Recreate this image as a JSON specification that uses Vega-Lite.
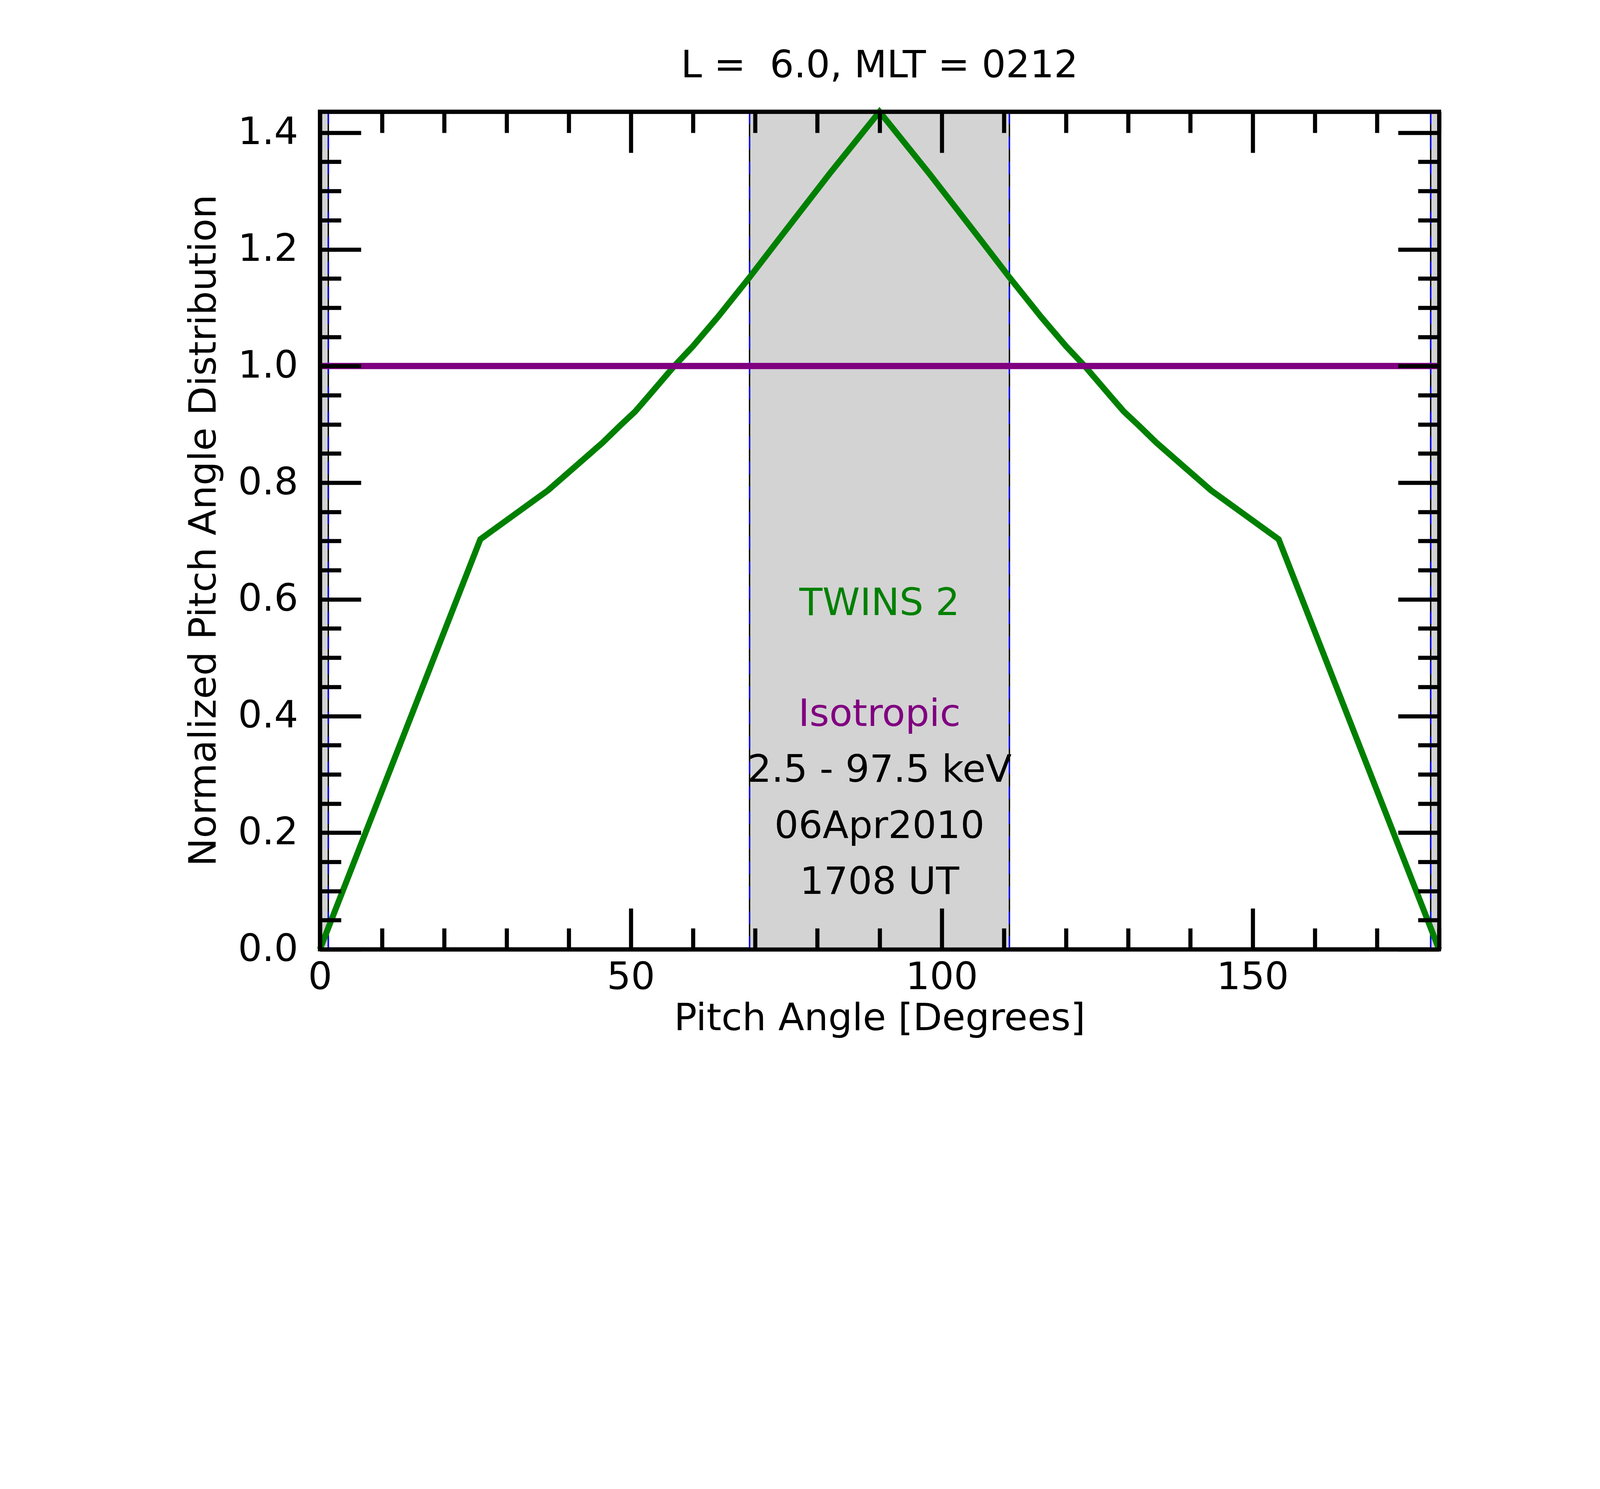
{
  "$schema": "https://vega.github.io/schema/vega-lite/v6.json",
  "width": 2865,
  "height": 2145,
  "autosize": "none",
  "padding": {"left": 819, "top": 286, "right": 412, "bottom": 429},
  "background": "white",
  "title": {
    "text": "L = \u00a06.0, MLT = 0212",
    "font": "DejaVu Sans",
    "fontSize": 97,
    "fontWeight": "normal",
    "color": "black",
    "anchor": "middle",
    "frame": "group",
    "baseline": "alphabetic",
    "offset": -40
  },
  "datasets": {
    "bands": [
      {"start": 0, "end": 1.35},
      {"start": 69.1, "end": 110.9},
      {"start": 178.65, "end": 180}
    ],
    "edges": [
      {"angle": 1.35},
      {"angle": 69.1},
      {"angle": 110.9},
      {"angle": 178.65}
    ],
    "twins": [
      {"angle": 0, "pad": 0},
      {"angle": 25.8, "pad": 0.703},
      {"angle": 36.7, "pad": 0.787},
      {"angle": 45.4, "pad": 0.868},
      {"angle": 48.3, "pad": 0.898},
      {"angle": 50.7, "pad": 0.922},
      {"angle": 52.9, "pad": 0.949},
      {"angle": 57.0, "pad": 1.0},
      {"angle": 60.0, "pad": 1.034},
      {"angle": 64.0, "pad": 1.084},
      {"angle": 69.1, "pad": 1.152},
      {"angle": 73.5, "pad": 1.213},
      {"angle": 78.0, "pad": 1.275},
      {"angle": 82.0, "pad": 1.33},
      {"angle": 86.0, "pad": 1.383},
      {"angle": 90, "pad": 1.436},
      {"angle": 94.0, "pad": 1.383},
      {"angle": 98.0, "pad": 1.33},
      {"angle": 102.0, "pad": 1.275},
      {"angle": 106.5, "pad": 1.213},
      {"angle": 110.9, "pad": 1.152},
      {"angle": 116.0, "pad": 1.084},
      {"angle": 120.0, "pad": 1.034},
      {"angle": 123.0, "pad": 1.0},
      {"angle": 127.1, "pad": 0.949},
      {"angle": 129.3, "pad": 0.922},
      {"angle": 131.7, "pad": 0.898},
      {"angle": 134.6, "pad": 0.868},
      {"angle": 143.3, "pad": 0.787},
      {"angle": 154.2, "pad": 0.703},
      {"angle": 180, "pad": 0}
    ],
    "isotropic": [
      {"angle": 0, "pad": 1},
      {"angle": 180, "pad": 1}
    ],
    "notes": [
      {"angle": 90, "pad": 0.573, "text": "TWINS 2", "kind": "twins"},
      {"angle": 90, "pad": 0.383, "text": "Isotropic", "kind": "iso"},
      {"angle": 90, "pad": 0.287, "text": "2.5 - 97.5 keV", "kind": "info"},
      {"angle": 90, "pad": 0.191, "text": "06Apr2010", "kind": "info"},
      {"angle": 90, "pad": 0.095, "text": "1708 UT", "kind": "info"}
    ]
  },
  "layer": [
    {
      "data": {"name": "bands"},
      "mark": {"type": "rect", "color": "#d3d3d3"},
      "encoding": {
        "x": {"field": "start", "type": "quantitative", "scale": {"domain": [0, 180], "nice": false}, "axis": null},
        "x2": {"field": "end"}
      }
    },
    {
      "data": {"name": "edges"},
      "mark": {"type": "rule", "color": "black", "strokeWidth": 3.5},
      "encoding": {
        "x": {"field": "angle", "type": "quantitative", "scale": {"domain": [0, 180], "nice": false}, "axis": null}
      }
    },
    {
      "data": {"name": "edges"},
      "mark": {"type": "rule", "color": "#0000ff", "strokeWidth": 3.5, "strokeDash": [32, 32]},
      "encoding": {
        "x": {"field": "angle", "type": "quantitative", "scale": {"domain": [0, 180], "nice": false}, "axis": null}
      }
    },
    {
      "data": {"name": "twins"},
      "mark": {"type": "line", "color": "#008000", "strokeWidth": 15.5},
      "encoding": {
        "x": {
          "field": "angle",
          "type": "quantitative",
          "scale": {"domain": [0, 180], "nice": false},
          "axis": {
            "orient": "bottom",
            "values": [0, 10, 20, 30, 40, 50, 60, 70, 80, 90, 100, 110, 120, 130, 140, 150, 160, 170, 180],
            "tickSize": {"condition": {"test": "datum.value % 50 === 0", "value": -105}, "value": -54},
            "tickWidth": 10.5,
            "tickColor": "black",
            "domain": true,
            "domainColor": "black",
            "domainWidth": 10.5,
            "grid": false,
            "labelExpr": "datum.value % 50 === 0 ? datum.label : ''",
            "labelFont": "DejaVu Sans",
            "labelFontSize": 97,
            "labelColor": "black",
            "labelPadding": 129,
            "labelLimit": 1000,
            "labelOverlap": false,
            "labelFlush": false,
            "title": "Pitch Angle [Degrees]",
            "titleFont": "DejaVu Sans",
            "titleFontSize": 97,
            "titleFontWeight": "normal",
            "titleColor": "black",
            "titleBaseline": "alphabetic",
            "titleY": 206,
            "titleLimit": 3000,
            "zindex": 1
          }
        },
        "y": {
          "field": "pad",
          "type": "quantitative",
          "scale": {"domain": [0, 1.436], "nice": false},
          "axis": {
            "orient": "left",
            "values": [0, 0.05, 0.1, 0.15, 0.2, 0.25, 0.3, 0.35, 0.4, 0.45, 0.5, 0.55, 0.6, 0.65, 0.7, 0.75, 0.8, 0.85, 0.9, 0.95, 1, 1.05, 1.1, 1.15, 1.2, 1.25, 1.3, 1.35, 1.4],
            "tickSize": {"condition": {"test": "round(datum.value * 20) % 4 === 0", "value": -105}, "value": -54},
            "tickWidth": 10.5,
            "tickColor": "black",
            "domain": true,
            "domainColor": "black",
            "domainWidth": 10.5,
            "grid": false,
            "labelExpr": "round(datum.value * 20) % 4 === 0 ? format(datum.value, '.1f') : ''",
            "labelFont": "DejaVu Sans",
            "labelFontSize": 97,
            "labelColor": "black",
            "labelPadding": 161,
            "labelLimit": 1000,
            "labelOverlap": false,
            "labelFlush": false,
            "title": "Normalized Pitch Angle Distribution",
            "titleFont": "DejaVu Sans",
            "titleFontSize": 97,
            "titleFontWeight": "normal",
            "titleColor": "black",
            "titleAngle": -90,
            "titleBaseline": "alphabetic",
            "titleX": -268,
            "titleY": 1072,
            "titleLimit": 3000,
            "zindex": 1
          }
        }
      }
    },
    {
      "data": {"name": "isotropic"},
      "mark": {"type": "line", "color": "#800080", "strokeWidth": 16},
      "encoding": {
        "x": {
          "field": "angle",
          "type": "quantitative",
          "scale": {"domain": [0, 180], "nice": false},
          "axis": {
            "orient": "top",
            "values": [0, 10, 20, 30, 40, 50, 60, 70, 80, 90, 100, 110, 120, 130, 140, 150, 160, 170, 180],
            "tickSize": {"condition": {"test": "datum.value % 50 === 0", "value": -105}, "value": -54},
            "tickWidth": 10.5,
            "tickColor": "black",
            "domain": true,
            "domainColor": "black",
            "domainWidth": 10.5,
            "grid": false,
            "labels": false,
            "title": null,
            "zindex": 1
          }
        },
        "y": {
          "field": "pad",
          "type": "quantitative",
          "scale": {"domain": [0, 1.436], "nice": false},
          "axis": {
            "orient": "right",
            "values": [0, 0.05, 0.1, 0.15, 0.2, 0.25, 0.3, 0.35, 0.4, 0.45, 0.5, 0.55, 0.6, 0.65, 0.7, 0.75, 0.8, 0.85, 0.9, 0.95, 1, 1.05, 1.1, 1.15, 1.2, 1.25, 1.3, 1.35, 1.4],
            "tickSize": {"condition": {"test": "round(datum.value * 20) % 4 === 0", "value": -105}, "value": -54},
            "tickWidth": 10.5,
            "tickColor": "black",
            "domain": true,
            "domainColor": "black",
            "domainWidth": 10.5,
            "grid": false,
            "labels": false,
            "title": null,
            "zindex": 1
          }
        }
      }
    },
    {
      "data": {"name": "notes"},
      "mark": {"type": "text", "font": "DejaVu Sans", "fontSize": 97, "align": "center", "baseline": "alphabetic"},
      "encoding": {
        "x": {"field": "angle", "type": "quantitative", "scale": {"domain": [0, 180], "nice": false}, "axis": null},
        "y": {"field": "pad", "type": "quantitative", "scale": {"domain": [0, 1.436], "nice": false}, "axis": null},
        "text": {"field": "text"},
        "color": {
          "field": "kind",
          "type": "nominal",
          "scale": {"domain": ["twins", "iso", "info"], "range": ["#008000", "#800080", "black"]},
          "legend": null
        }
      }
    }
  ],
  "resolve": {"axis": {"x": "independent", "y": "independent"}},
  "config": {
    "view": {"stroke": "black", "strokeWidth": 10.5}
  }
}
